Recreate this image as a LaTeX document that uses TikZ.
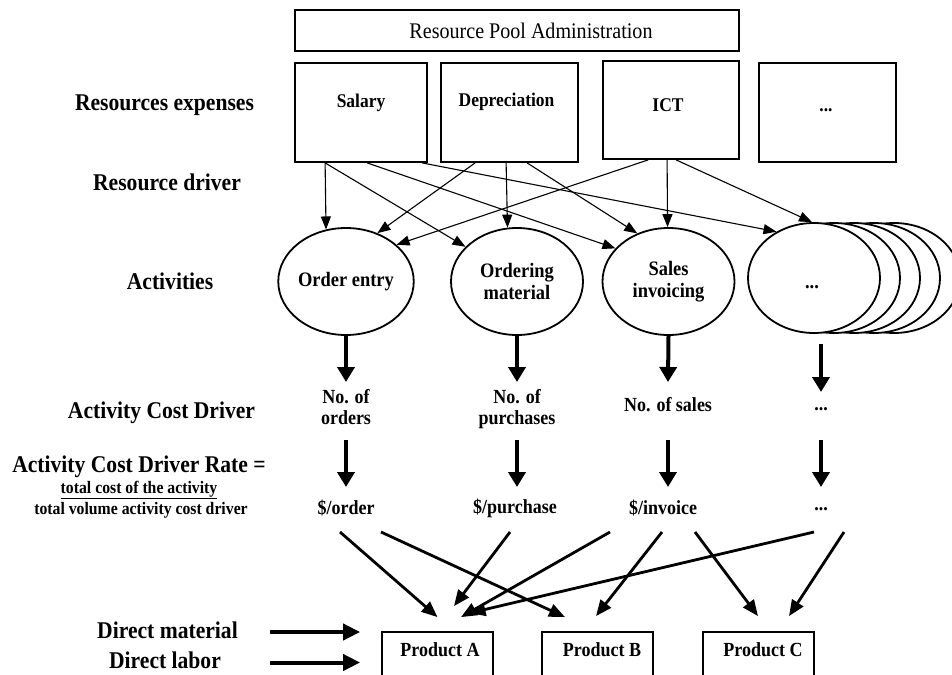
\documentclass[tikz,border=0pt]{standalone}
\usepackage{fontspec}
\setmainfont{Liberation Serif}[FakeStretch=0.9]
\usetikzlibrary{arrows.meta,shapes.geometric,calc}
\newcommand\labfont{\fontsize{24pt}{28pt}\selectfont\bfseries}
\newcommand\boxfont{\fontsize{19.4pt}{23pt}\selectfont\bfseries}
\newcommand\actfont{\fontsize{20.5pt}{22pt}\selectfont\bfseries}
\newcommand\rowfont{\fontsize{20pt}{20.5pt}\selectfont\bfseries}
\newcommand\fracfont{\fontsize{17.5pt}{17pt}\selectfont\bfseries}
\newcommand\poolfont{\fontsize{22.3pt}{26pt}\selectfont}
\begin{document}
\begin{tikzpicture}[x=1pt,y=-1pt,
  resbox/.style={draw, line width=1.8pt, inner sep=0pt, minimum height=99pt},
  prodbox/.style={draw, line width=1.8pt, inner sep=0pt, minimum width=111pt, minimum height=68pt},
  act/.style={ellipse, draw, line width=1.8pt, fill=white, inner sep=0pt,
              minimum width=132pt, minimum height=107pt, align=center, font=\actfont},
  lab/.style={font=\labfont, inner sep=0pt},
  rowtxt/.style={font=\rowfont, align=center, inner sep=0pt},
  thinarr/.style={line width=1.1pt, -{Triangle[length=13pt,width=10pt]}},
  colarr/.style={line width=4pt, -{Triangle[length=15pt,width=17pt]}},
  prodarr/.style={line width=2.8pt, -{Triangle[length=16pt,width=13pt]}},
  dirarr/.style={line width=4pt, -{Triangle[length=17pt,width=16pt]}}]
\useasboundingbox (0,0) rectangle (952,674);
\clip (0,0) rectangle (952,674);
\fill[white] (0,0) rectangle (952,674);

% resource pool
\node[draw, line width=1.2pt, inner sep=0pt, minimum width=444pt, minimum height=41pt] (rpa) at (517,30.5) {};
\node[font=\poolfont, inner sep=0pt] (rpaT) at (531,31) {Resource Pool Administration};

% resource boxes
\node[resbox, minimum width=132pt] (salary) at (361,112.5) {};
\node[resbox, minimum width=137pt] (depr) at (509.5,112.5) {};
\node[resbox, minimum width=136pt, minimum height=98pt] (ict) at (671,110) {};
\node[resbox, minimum width=137pt] (etcbox) at (827.5,112.5) {};
\node[font=\boxfont, inner sep=0pt] (salaryT) at (361,103) {Salary};
\node[font=\boxfont, inner sep=0pt] (deprT) at (506.5,102) {Depreciation};
\node[font=\boxfont, inner sep=0pt] (ictT) at (668,105) {ICT};
\node[font=\boxfont, inner sep=0pt] (etcboxT) at (826,110) {...};

% left labels
\node[lab] (lre) at (164.5,105) {Resources expenses};
\node[lab] (lrd) at (167,182) {Resource driver};
\node[lab] (lact) at (170,281) {Activities};
\node[lab] (lacd) at (161.5,413) {Activity Cost Driver};
\node[lab] (lrate) at (139,467) {Activity Cost Driver Rate =};
\node[font=\fracfont, inner sep=0pt] (lnum) at (139,490) {\underline{total cost of the activity}};
\node[font=\fracfont, inner sep=0pt] (lden) at (141,510) {total volume activity cost driver};
\node[lab] (dm) at (167.5,630) {Direct material};
\node[lab] (dl) at (165,660.5) {Direct labor};

% activities
\node[act] (o1) at (346,281.5) {Order entry};
\node[act] (o2) at (517,281.5) {Ordering\\material};
\node[act] (o3) at (668.5,281.5) {Sales\\invoicing};
\foreach \i/\d in {4/80,3/60,2/40,1/20}
  \node[act, minimum height=110pt] (o4s\i) at (814+\d,278) {};
\node[act, minimum height=110pt] (o4) at (814,278) {};
\node[font=\actfont, inner sep=0pt] (o4T) at (812,287) {...};

% resource drivers
\draw[thinarr] ([xshift=31pt]salary.south west) -- (o1.111);
\draw[thinarr] ([xshift=31pt]salary.south west) -- (o2.146);
\draw[thinarr] ([xshift=73pt]salary.south west) -- (o3.148);
\draw[thinarr] ([xshift=128pt]salary.south west) -- (o4.129);
\draw[thinarr] ([xshift=35pt]depr.south west) -- (o1.57);
\draw[thinarr] ([xshift=66pt]depr.south west) -- (o2.100);
\draw[thinarr] ([xshift=87pt]depr.south west) -- (o3.123);
\draw[thinarr] ([xshift=46pt]ict.south west) -- (o1.36);
\draw[thinarr] ([xshift=65pt]ict.south west) -- (o3.91);
\draw[thinarr] ([xshift=74pt]ict.south west) -- (o4.92);

% cost drivers
\node[rowtxt] (cd1) at (346,407) {No. of\\orders};
\node[rowtxt] (cd2) at (517,409) {No. of\\purchases};
\node[rowtxt] (cd3) at (668,405) {No. of sales};
\node[rowtxt] (cd4) at (821,409) {...};

\draw[colarr] (o1.south) -- ($(cd1.center)+(0,-25)$);
\draw[colarr] (o2.south) -- ($(cd2.center)+(0,-27)$);
\draw[colarr] (o3.south) -- ($(cd3.center)+(0,-23)$);
\draw[colarr] ($(cd4 |- o4.south)+(0,10)$) -- ($(cd4.center)+(0,-17)$);

% rates
\node[rowtxt] (r1) at (346,508) {\$/order};
\node[rowtxt] (r2) at (515,508) {\$/purchase};
\node[rowtxt] (r3) at (663,508) {\$/invoice};
\node[rowtxt] (r4) at (821,509) {...};

\draw[colarr] ($(cd1.center)+(0,33)$) -- ($(cd1.center |- r1.center)+(0,-21)$);
\draw[colarr] ($(cd2.center)+(0,31)$) -- ($(cd2.center |- r2.center)+(0,-21)$);
\draw[colarr] ($(cd3.center)+(0,35)$) -- ($(cd3.center |- r3.center)+(0,-21)$);
\draw[colarr] ($(cd4.center)+(0,31)$) -- ($(cd4.center |- r4.center)+(0,-22)$);

% products
\node[prodbox] (pA) at (437.5,666) {};
\node[prodbox] (pB) at (597.5,666) {};
\node[prodbox] (pC) at (758.5,666) {};
\node[rowtxt] (pAT) at (440,650) {Product A};
\node[rowtxt] (pBT) at (602,650) {Product B};
\node[rowtxt] (pCT) at (763,650) {Product C};

\draw[prodarr] ($(r1.center)+(-6,24)$) -- ($(pA.north)+(0,-14)$);
\draw[prodarr] ($(r1.center)+(35,24)$) -- ($(pB.north)+(-32.5,-14)$);
\draw[prodarr] ($(r2.center)+(-5,24)$) -- ($(pA.north)+(16.5,-25)$);
\draw[prodarr] ($(r3.center)+(-53,24)$) -- ($(pA.north)+(23.5,-14)$);
\draw[prodarr] ($(r3.center)+(-1,24)$) -- ($(pB.north)+(-1.5,-15)$);
\draw[prodarr] ($(r3.center)+(32,24)$) -- ($(pC.north)+(-0.5,-15)$);
\draw[prodarr] ($(r4.center)+(-7,23)$) -- ($(pA.north)+(32,-18)$);
\draw[prodarr] ($(r4.center)+(23,23)$) -- ($(pC.north)+(30.5,-15)$);

% direct costs
\draw[dirarr] ($(dm.center -| pA.west)+(-111,2)$) -- ($(dm.center -| pA.west)+(-21,2)$);
\draw[dirarr] ($(dl.center -| pA.west)+(-111,2)$) -- ($(dl.center -| pA.west)+(-21,2)$);
\end{tikzpicture}
\end{document}
